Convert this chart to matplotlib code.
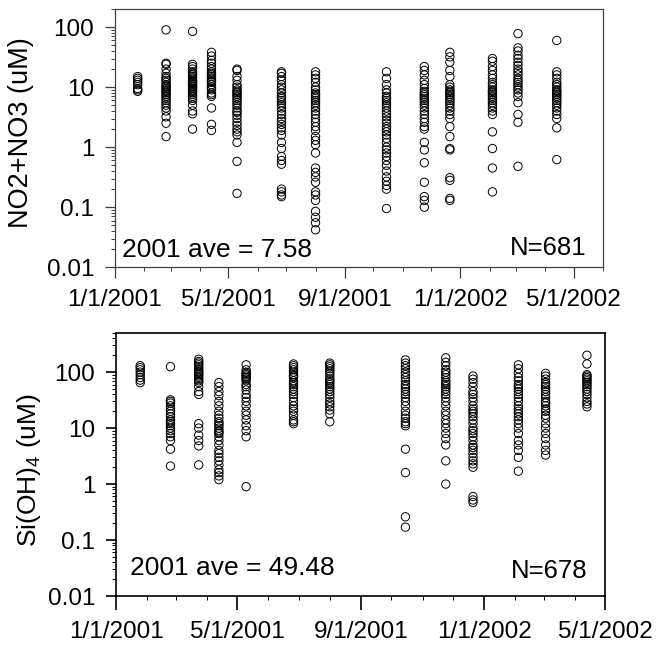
import datetime as dt

import matplotlib

matplotlib.use("Agg")
import matplotlib.dates as mdates
import matplotlib.pyplot as plt
from matplotlib.ticker import FuncFormatter, LogLocator, NullFormatter

plt.rcParams["font.family"] = ["Liberation Sans", "DejaVu Sans"]
plt.rcParams["mathtext.fontset"] = "custom"
plt.rcParams["mathtext.rm"] = "Liberation Sans"

# cruise dates (same for both nutrients)
cruise_dates = [
    "2001-01-25", "2001-02-24", "2001-03-24", "2001-04-13", "2001-05-10",
    "2001-06-26", "2001-08-01", "2001-10-15", "2001-11-24", "2001-12-21",
    "2002-02-04", "2002-03-03", "2002-04-13",
]

# NO2+NO3 (uM) per cruise
no3_jan = [8.5, 9.0, 9.5, 11, 12, 13, 14, 15]
no3_feb = [90, 25, 24, 20, 17, 15, 14, 13, 12, 11, 10.5, 10, 9.5, 9, 8.5, 8,
           7.5, 7, 6.5, 6, 5.5, 5, 4.5, 4, 3.2, 2.5, 1.5]
no3_mar = [85, 24, 22, 20, 18, 17, 16, 15, 14, 13, 12.5, 12, 11.5, 11, 10.5,
           10, 9.5, 9, 8.5, 8, 7.5, 7, 6.5, 6, 5, 4, 3.6, 2.0]
no3_apr = [38, 33, 28, 25, 22, 20, 18, 17, 16, 15, 14, 13, 12.5, 12, 11, 10,
           9.5, 9, 8, 7.5, 7, 4.5, 2.4, 1.9]
no3_may = [20, 19, 15, 13, 11, 10, 9, 8.5, 8, 7.5, 7, 6.5, 6, 5.5, 5, 4.5, 4,
           3.8, 3.4, 3, 2.6, 2.3, 2.0, 1.8, 1.6, 1.2, 0.58, 0.17]
no3_jun = [18, 17, 15, 13, 11, 10, 9, 8, 7, 6.5, 6, 5.5, 5, 4.5, 4, 3.5, 3,
           2.7, 2.4, 2.1, 1.9, 1.6, 1.2, 0.95, 0.7, 0.6, 0.52, 0.2, 0.18, 0.16,
           0.15]
no3_aug = [18, 16, 14, 12, 10, 9, 8, 7.5, 7, 6.5, 6, 5.5, 5, 4.5, 4, 3.5, 3,
           2.6, 2.2, 1.9, 1.5, 1.3, 1.1, 0.8, 0.45, 0.38, 0.32, 0.26, 0.18,
           0.16, 0.13, 0.085, 0.068, 0.055, 0.042]
no3_oct = [18, 14, 11, 9, 8, 7, 6.5, 6, 5.5, 5, 4.5, 4, 3.6, 3.2, 2.8, 2.5,
           2.2, 2.0, 1.8, 1.6, 1.4, 1.2, 1.0, 0.9, 0.8, 0.7, 0.6, 0.5, 0.4,
           0.32, 0.27, 0.23, 0.2, 0.095]
no3_nov = [22, 19, 16, 13, 11, 9.5, 8.5, 8, 7.5, 7, 6.5, 6, 5.5, 5, 4.5, 4,
           3.5, 3, 2.6, 2.2, 2.0, 1.2, 0.9, 0.55, 0.26, 0.15, 0.13, 0.1]
no3_dec = [38, 32, 26, 19, 15, 11, 10, 9, 8.5, 8, 7.5, 7, 6.5, 6, 5.5, 5, 4.5,
           4, 3.5, 3, 2.2, 1.5, 0.95, 0.9, 0.31, 0.28, 0.14, 0.13]
no3_feb02 = [30, 27, 22, 19, 16, 14, 12, 11, 10, 9, 8.5, 8, 7.5, 7, 6.5, 6,
             5.5, 5, 4.5, 4, 3.5, 1.8, 0.95, 0.45, 0.18]
no3_mar02 = [78, 45, 40, 34, 30, 26, 23, 20, 18, 16, 14, 13, 12, 11, 10, 9, 8,
             7, 5.5, 3.5, 2.6, 0.48]
no3_apr02 = [60, 18, 16, 14, 12, 11, 10, 9, 8.5, 8, 7.5, 7, 6.5, 6, 5.5, 5,
             4.5, 4, 3.5, 3, 2.1, 0.62]

# Si(OH)4 (uM) per cruise
si_jan = [130, 120, 110, 100, 90, 80, 72, 65]
si_feb = [125, 32, 30, 28, 25, 22, 20, 18, 16, 14, 13, 12, 11, 10, 9, 8, 7, 6,
          4.2, 2.1]
si_mar = [170, 155, 145, 135, 125, 115, 105, 100, 95, 90, 85, 80, 75, 70, 65,
          55, 45, 40, 12, 10, 7.5, 6, 4.8, 2.2]
si_apr = [65, 55, 45, 38, 30, 25, 20, 17, 15, 13, 12, 11, 10, 9, 8.5, 8, 7, 6,
          5, 4, 3.5, 3, 2.6, 2.2, 1.8, 1.6, 1.4, 1.2]
si_may = [135, 110, 100, 95, 90, 85, 80, 75, 70, 60, 55, 48, 40, 35, 30, 25,
          20, 17, 14, 11, 9, 7, 0.9]
si_jun = [140, 130, 120, 110, 100, 90, 85, 80, 70, 65, 60, 55, 50, 45, 40, 35,
          30, 25, 22, 20, 17, 14, 13, 12]
si_aug = [145, 135, 125, 115, 105, 95, 85, 75, 70, 65, 60, 55, 50, 45, 40, 35,
          30, 27, 24, 21, 18, 13]
si_oct = [165, 145, 130, 115, 100, 90, 80, 70, 60, 55, 50, 45, 40, 35, 30, 25,
          20, 17, 15, 13, 12, 11, 4.2, 1.6, 0.26, 0.17]
si_nov = [180, 150, 130, 110, 100, 90, 80, 70, 65, 60, 55, 50, 45, 40, 35, 30,
          25, 20, 17, 14, 12, 10, 8, 6.5, 5, 2.6, 1.0]
si_dec = [85, 75, 65, 55, 45, 40, 35, 30, 25, 22, 20, 18, 16, 14, 12, 10, 9, 8,
          7, 6, 5, 4.5, 4, 3.5, 3, 2.6, 2.3, 2, 0.6, 0.52, 0.47]
si_feb02 = [135, 115, 95, 80, 70, 60, 55, 50, 45, 40, 35, 30, 25, 22, 20, 18,
            16, 14, 12, 10, 8, 6, 5, 4, 3, 1.7]
si_mar02 = [95, 85, 75, 65, 60, 55, 50, 45, 40, 35, 30, 28, 25, 22, 20, 17, 15,
            12, 10, 8, 6.5, 5, 4, 3.3]
si_apr02 = [200, 140, 90, 85, 80, 75, 70, 65, 60, 55, 50, 45, 40, 35, 30, 27,
            24]

no3_cruises = [no3_jan, no3_feb, no3_mar, no3_apr, no3_may, no3_jun, no3_aug,
               no3_oct, no3_nov, no3_dec, no3_feb02, no3_mar02, no3_apr02]
si_cruises = [si_jan, si_feb, si_mar, si_apr, si_may, si_jun, si_aug,
              si_oct, si_nov, si_dec, si_feb02, si_mar02, si_apr02]

y_ticks = [0.01, 0.1, 1, 10, 100]
y_tick_labels = ["0.01", "0.1", "1", "10", "100"]


def date_label(x, pos=None):
    d = mdates.num2date(x)
    return f"{d.month}/{d.day}/{d.year}"


def scatter_cruises(ax, cruises):
    for date_str, values in zip(cruise_dates, cruises):
        d = dt.datetime.strptime(date_str, "%Y-%m-%d")
        ax.scatter([d] * len(values), values, s=36, facecolors="none",
                   edgecolors="black", linewidths=0.7, zorder=3)


def style_axes(ax, ymax, xmax, spine_color, spine_width, xtick_len):
    ax.set_yscale("log")
    ax.set_ylim(0.01, ymax)
    ax.set_xlim(dt.datetime(2001, 1, 1), xmax)
    ax.set_yticks(y_ticks)
    ax.set_yticklabels(y_tick_labels)
    ax.yaxis.set_minor_locator(LogLocator(base=10, subs=range(2, 10), numticks=20))
    ax.yaxis.set_minor_formatter(NullFormatter())
    ax.xaxis.set_major_locator(mdates.MonthLocator(bymonth=[1, 5, 9]))
    ax.xaxis.set_minor_locator(mdates.MonthLocator())
    ax.xaxis.set_major_formatter(FuncFormatter(date_label))
    for s in ax.spines.values():
        s.set_color(spine_color)
        s.set_linewidth(spine_width)
    ax.tick_params(axis="both", which="major", direction="out", labelsize=17.5,
                   color=spine_color, width=spine_width, pad=8)
    ax.tick_params(axis="x", which="major", length=xtick_len)
    ax.tick_params(axis="y", which="major", length=7)
    ax.tick_params(axis="both", which="minor", direction="out", length=3,
                   color=spine_color, width=0.7)


fig = plt.figure(figsize=(6.57, 6.47), dpi=100)

# NO2+NO3 panel
ax1 = fig.add_axes([0.175, 0.587, 0.743, 0.399])
scatter_cruises(ax1, no3_cruises)
style_axes(ax1, 200, dt.datetime(2002, 6, 1), "#404040", 0.9, 8)
ax1.set_ylabel("NO2+NO3 (uM)", fontsize=19.5)
ax1.yaxis.set_label_coords(-0.165, 0.52)
ax1.text(0.014, 0.04, "2001 ave = 7.58", transform=ax1.transAxes,
         fontsize=19, ha="left", va="baseline")
ax1.text(0.965, 0.047, "N=681", transform=ax1.transAxes,
         fontsize=18.5, ha="right", va="baseline")

# Si(OH)4 panel
ax2 = fig.add_axes([0.1766, 0.0788, 0.7444, 0.4065])
scatter_cruises(ax2, si_cruises)
style_axes(ax2, 500, dt.datetime(2002, 5, 1), "black", 1.2, 10)
ax2.set_ylabel("Si(OH)$_\\mathregular{4}$ (uM)", fontsize=19)
ax2.yaxis.set_label_coords(-0.15, 0.48)
ax2.text(0.029, 0.08, "2001 ave = 49.48", transform=ax2.transAxes,
         fontsize=19, ha="left", va="baseline")
ax2.text(0.965, 0.068, "N=678", transform=ax2.transAxes,
         fontsize=18.5, ha="right", va="baseline")

fig.savefig("out.png", dpi=100)
